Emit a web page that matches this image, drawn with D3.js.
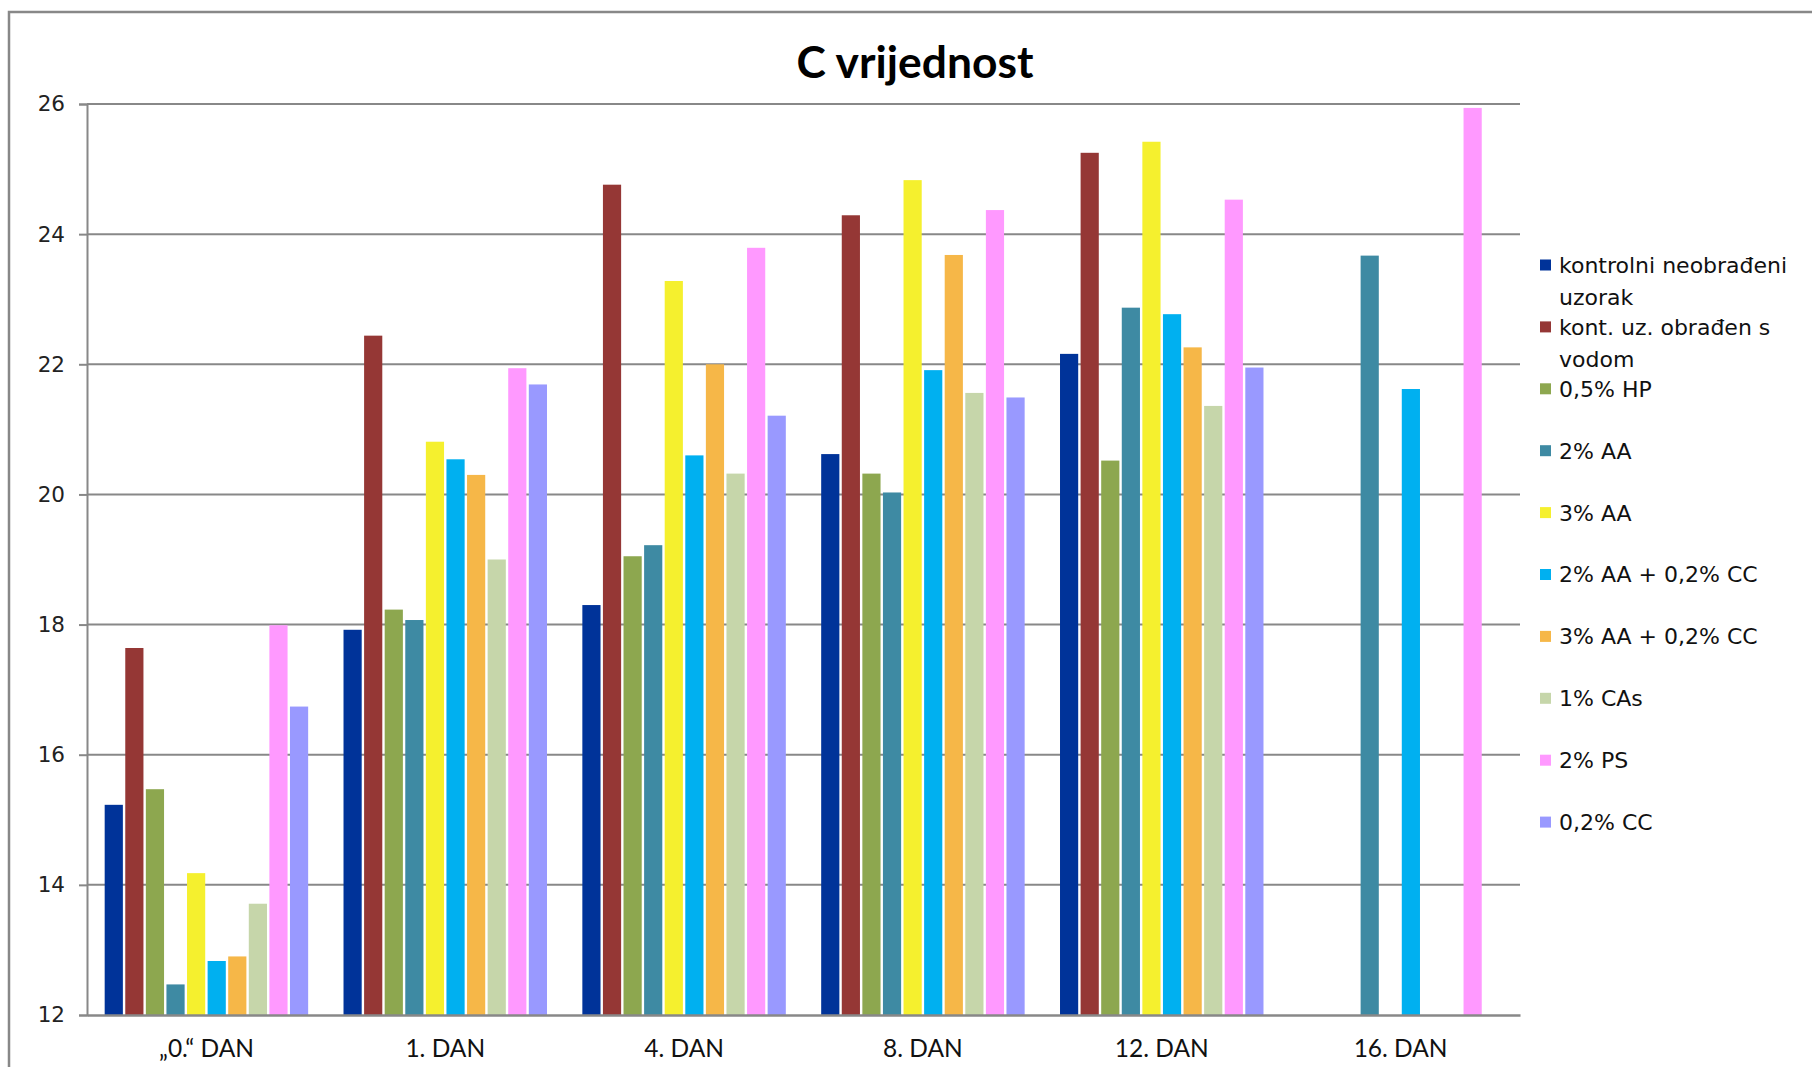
<!DOCTYPE html>
<html>
<head>
<meta charset="utf-8">
<script src="https://cdn.jsdelivr.net/npm/d3@7"></script>
<style>
  html, body { margin: 0; padding: 0; background: #fff; }
  svg { display: block; }
</style>
</head>
<body>
<svg id="chart" width="1812" height="1067"></svg>
<script>
const title = "C vrijednost";
const categories = ["„0.“ DAN", "1. DAN", "4. DAN", "8. DAN", "12. DAN", "16. DAN"];
const seriesNames = [
  "kontrolni neobrađeni uzorak",
  "kont. uz. obrađen s vodom",
  "0,5% HP",
  "2% AA",
  "3% AA",
  "2% AA + 0,2% CC",
  "3% AA + 0,2% CC",
  "1% CAs",
  "2% PS",
  "0,2% CC"
];
const seriesColors = ["#003399", "#953735", "#8da74f", "#3e8aa3", "#f5f02e", "#00b0f0", "#f6b748", "#c6d6aa", "#ff99ff", "#9999ff"];
const kontrolni   = [15.23, 17.92, 18.30, 20.62, 22.16, null];
const kontVoda    = [17.64, 22.44, 24.76, 24.29, 25.25, null];
const hp05        = [15.47, 18.23, 19.05, 20.32, 20.52, null];
const aa2         = [12.47, 18.07, 19.22, 20.03, 22.87, 23.67];
const aa3         = [14.18, 20.81, 23.28, 24.83, 25.42, null];
const aa2cc       = [12.83, 20.54, 20.60, 21.91, 22.77, 21.62];
const aa3cc       = [12.90, 20.30, 22.00, 23.68, 22.26, null];
const cas1        = [13.71, 19.00, 20.32, 21.56, 21.36, null];
const ps2         = [17.99, 21.94, 23.79, 24.37, 24.53, 25.94];
const cc02        = [16.74, 21.69, 21.21, 21.49, 21.95, null];
const seriesValues = [kontrolni, kontVoda, hp05, aa2, aa3, aa2cc, aa3cc, cas1, ps2, cc02];
const yTicks = [12, 14, 16, 18, 20, 22, 24, 26];

const svg = d3.select("#chart");
const W = 1812, H = 1067;
const plot = { left: 87, right: 1520, top: 104, bottom: 1015 };
const gridColor = "#888888";

// outer frame
svg.append("rect").attr("x", 9).attr("y", 12).attr("width", W + 40).attr("height", H + 40)
  .attr("fill", "#fff").attr("stroke", gridColor).attr("stroke-width", 2.5);

// title
const t = svg.append("text").text(title)
  .attr("x", 915).attr("y", 78).attr("text-anchor", "middle")
  .style("font-family", "Lato, 'Open Sans', sans-serif").style("font-weight", "bold")
  .style("font-size", "44px").attr("fill", "#000");
const tl = t.node().getComputedTextLength();
t.style("font-size", (44 * 237 / tl) + "px");

const x0 = d3.scaleBand().domain(categories).range([plot.left, plot.right])
  .paddingInner(0.138).paddingOuter(0.069);
const x1 = d3.scaleBand().domain(d3.range(seriesNames.length)).range([0, x0.bandwidth()]);
const y = d3.scaleLinear().domain([12, 26]).range([plot.bottom, plot.top]);

// gridlines
svg.append("g").selectAll("line").data(yTicks.filter(v => v > 12)).join("line")
  .attr("x1", plot.left).attr("x2", plot.right)
  .attr("y1", d => y(d)).attr("y2", d => y(d))
  .attr("stroke", gridColor).attr("stroke-width", 2);

// y axis
const yAxis = d3.axisLeft(y).tickValues(yTicks).tickSize(8).tickPadding(14).tickFormat(d3.format("d"));
const gy = svg.append("g").attr("transform", `translate(${plot.left},0)`).call(yAxis);
gy.select(".domain").attr("stroke", gridColor).attr("stroke-width", 2);
gy.selectAll(".tick line").attr("stroke", gridColor).attr("stroke-width", 2);
gy.selectAll(".tick text").style("font-family", "'DejaVu Sans', Verdana, sans-serif")
  .style("font-size", "21.5px").attr("fill", "#222");

// bars
const gap = 2.4;
const groups = svg.append("g").selectAll("g").data(categories).join("g")
  .attr("transform", d => `translate(${x0(d)},0)`);
groups.selectAll("rect")
  .data((c, ci) => seriesValues.map((vals, si) => ({ si, v: vals[ci] })).filter(d => d.v != null))
  .join("rect")
  .attr("x", d => x1(d.si) + gap / 2)
  .attr("width", x1.bandwidth() - gap)
  .attr("y", d => y(d.v))
  .attr("height", d => y(12) - y(d.v))
  .attr("fill", d => seriesColors[d.si]);

// x axis
const xAxis = d3.axisBottom(x0).tickSize(0).tickPadding(25);
const gx = svg.append("g").attr("transform", `translate(0,${plot.bottom})`).call(xAxis);
gx.select(".domain").attr("stroke", gridColor).attr("stroke-width", 2.5);
gx.selectAll(".tick text").style("font-family", "Lato, 'Open Sans', sans-serif")
  .style("font-size", "24.5px").attr("fill", "#111").attr("dy", "0.71em");

// legend
const legend = svg.append("g");
const lgX = 1540, lgY0 = 265, lgStep = 61.9, lineH = 32, maxW = 245;
seriesNames.forEach((name, i) => {
  const yy = lgY0 + i * lgStep;
  legend.append("rect").attr("x", lgX).attr("y", yy - 5.5).attr("width", 11).attr("height", 11)
    .attr("fill", seriesColors[i]);
  const txt = legend.append("text").attr("x", lgX + 19).attr("y", yy).attr("dy", "0.36em")
    .style("font-family", "'DejaVu Sans', Verdana, sans-serif").style("font-size", "22px").attr("fill", "#111");
  const words = name.split(" ");
  let line = [];
  let tspan = txt.append("tspan").attr("x", lgX + 19);
  words.forEach(w => {
    line.push(w);
    tspan.text(line.join(" "));
    if (tspan.node().getComputedTextLength() > maxW && line.length > 1) {
      line.pop();
      tspan.text(line.join(" "));
      line = [w];
      tspan = txt.append("tspan").attr("x", lgX + 19).attr("dy", lineH).text(w);
    }
  });
});
</script>
</body>
</html>
